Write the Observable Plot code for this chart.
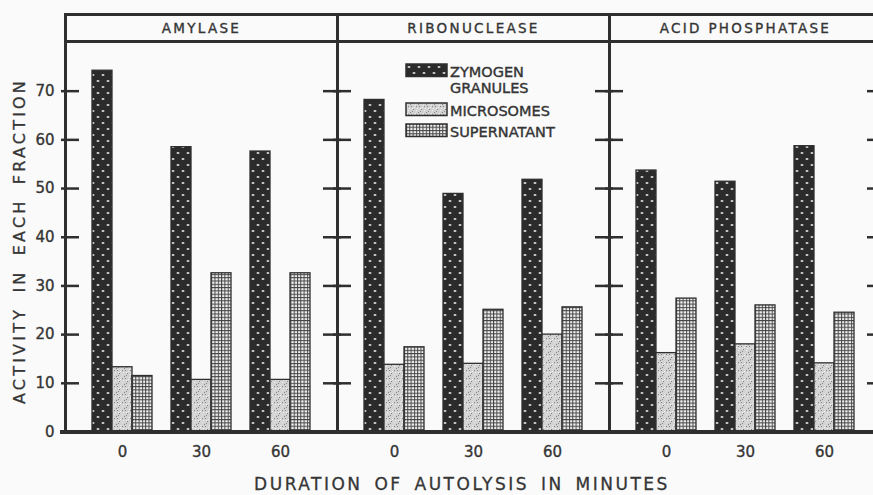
<!DOCTYPE html>
<html><head><meta charset="utf-8">
<script src="https://cdn.jsdelivr.net/npm/d3@7"></script>
<script src="https://cdn.jsdelivr.net/npm/@observablehq/plot@0.6"></script>
<style>
html,body{margin:0;padding:0;background:#fafafa;overflow:hidden;}
#chart{width:873px;height:495px;position:relative;}
</style></head><body><div id="chart"></div>
<script>
// ---- data ----
const enzymes = ["AMYLASE", "RIBONUCLEASE", "ACID PHOSPHATASE"];
const durations = ["0", "30", "60"];
const fractions = ["ZYMOGEN GRANULES", "MICROSOMES", "SUPERNATANT"];
// values ordered enzyme by enzyme, duration 0, 30, 60
const zymogen     = [74.2, 58.5, 57.6,  68.2, 48.9, 51.8,  53.7, 51.4, 58.7];
const microsomes  = [13.3, 10.7, 10.7,  13.8, 14.0, 20.0,  16.2, 18.0, 14.1];
const supernatant = [11.5, 32.6, 32.6,  17.4, 25.1, 25.6,  27.4, 26.0, 24.5];
const yTicks = [0, 10, 20, 30, 40, 50, 60, 70];
const yLabel = "ACTIVITY IN EACH FRACTION";
const xLabel = "DURATION OF AUTOLYSIS IN MINUTES";

const series = [zymogen, microsomes, supernatant];
const rows = [];
enzymes.forEach((e, i) => durations.forEach((d, j) => {
  fractions.forEach((f, s) => rows.push({enzyme: e, duration: d, fraction: f, value: series[s][i * 3 + j]}));
}));

const ink = "#2f2f2f";
const txt = "#353535";
const W = 873, H = 495, ML = 65, MR = -8, MT = 41, MB = 63.5;
const FW = (W - ML - MR) / 3;
const fills = ["url(#pZym)", "url(#pMic)", "url(#pSup)"];
const insets = [[0, 40], [20, 20], [40, 0]];

const plot = Plot.plot({
  width: W, height: H,
  marginLeft: ML, marginRight: MR, marginTop: MT, marginBottom: MB,
  style: {background: "transparent", fontFamily: "'DejaVu Sans', sans-serif", fontSize: "15px", color: txt, overflow: "visible"},
  facet: {data: rows, x: "enzyme"},
  fx: {domain: enzymes, padding: 0, axis: "top", label: null, tickSize: 0, tickPadding: 9},
  x: {domain: durations, paddingInner: 0.24, paddingOuter: 0.34, tickSize: 0, tickPadding: 14, label: null},
  y: {domain: [0, 80.2], ticks: yTicks, tickSize: 0, tickPadding: 11, label: null},
  marks: [
    ...fractions.map((f, s) => Plot.barY(rows, {
      filter: d => d.fraction === f, x: "duration", y: "value",
      fill: fills[s], stroke: ink, strokeWidth: 1.3,
      insetLeft: insets[s][0], insetRight: insets[s][1]
    })),
    Plot.ruleY(yTicks.slice(1), {stroke: ink, strokeWidth: 2.5, insetLeft: -4, insetRight: FW - 14}),
    Plot.ruleY(yTicks.slice(1), {stroke: ink, strokeWidth: 2.5, insetLeft: FW - 14, insetRight: -4}),
    Plot.ruleY([0], {stroke: ink, strokeWidth: 4, insetLeft: -5}),
    Plot.frame({stroke: ink, strokeWidth: 3, insetTop: -27}),
    Plot.frame({stroke: ink, strokeWidth: 3})
  ]
});

const svg = d3.select(plot);
// patterns
const defs = svg.insert("defs", ":first-child");
const pz = defs.append("pattern").attr("id", "pZym").attr("patternUnits", "userSpaceOnUse").attr("width", 10).attr("height", 12);
pz.append("rect").attr("width", 10).attr("height", 12).attr("fill", "#2b2b2b");
pz.append("ellipse").attr("cx", 3).attr("cy", 3).attr("rx", 1.5).attr("ry", 1).attr("fill", "#d5d5d5");
pz.append("ellipse").attr("cx", 8).attr("cy", 9).attr("rx", 1.5).attr("ry", 1).attr("fill", "#d5d5d5");
const pm = defs.append("pattern").attr("id", "pMic").attr("patternUnits", "userSpaceOnUse").attr("width", 8).attr("height", 8);
pm.append("rect").attr("width", 8).attr("height", 8).attr("fill", "#d2d2d2");
[[1,1],[5,2],[3,4],[7,5],[2,6],[6,7],[0,3],[4,0],[6,4],[2,2]].forEach(([x, y], k) =>
  pm.append("rect").attr("x", x).attr("y", y).attr("width", 1).attr("height", 1).attr("fill", k % 2 ? "#858585" : "#f2f2f2"));
const ps = defs.append("pattern").attr("id", "pSup").attr("patternUnits", "userSpaceOnUse").attr("width", 3.3).attr("height", 3.3);
ps.append("rect").attr("width", 3.3).attr("height", 3.3).attr("fill", "#f0f0f0");
ps.append("path").attr("d", "M0,0.5H3.3M0.5,0V3.3").attr("stroke", "#444").attr("stroke-width", 1);

// axis text styling
svg.selectAll('[aria-label^="fx-axis"] text').attr("font-size", 13.5).attr("letter-spacing", 2.3)
  .attr("stroke", txt).attr("stroke-width", 0.35);
svg.selectAll('[aria-label^="x-axis"] text, [aria-label^="y-axis"] text').attr("stroke", txt).attr("stroke-width", 0.35);

// axis titles
svg.append("text").attr("transform", "translate(19,241) rotate(-90)").attr("text-anchor", "middle")
  .attr("dy", "0.35em").attr("font-size", 16).attr("letter-spacing", 3.2).attr("word-spacing", 6)
  .attr("fill", txt).attr("stroke", txt).attr("stroke-width", 0.3).text(yLabel);
svg.append("text").attr("x", 462).attr("y", 490).attr("text-anchor", "middle")
  .attr("font-size", 17).attr("letter-spacing", 2.5).attr("word-spacing", 4)
  .attr("fill", txt).attr("stroke", txt).attr("stroke-width", 0.3).text(xLabel);

// legend
const lg = svg.append("g").attr("transform", "translate(406,64)").attr("font-size", 14.5)
  .attr("text-anchor", "start").attr("fill", txt);
const lgY = [0, 39, 60];
fractions.forEach((f, s) => {
  lg.append("rect").attr("x", 0).attr("y", lgY[s]).attr("width", 41).attr("height", 12.5)
    .attr("fill", fills[s]).attr("stroke", ink).attr("stroke-width", 1.5);
  f.split(" ").forEach((w, k) => lg.append("text").attr("x", 44).attr("y", lgY[s] + 13 + k * 16)
    .attr("text-anchor", "start").attr("stroke", txt).attr("stroke-width", 0.4).text(w));
});

document.getElementById("chart").appendChild(plot);
</script>
</body></html>
